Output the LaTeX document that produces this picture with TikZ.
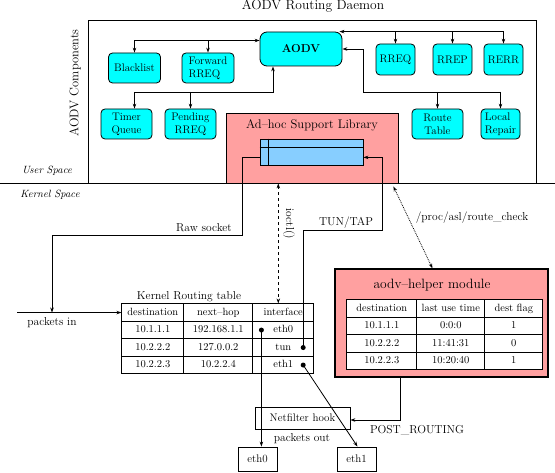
\documentclass[tikz,border=0pt]{standalone}
\usepackage{tikz}
\usetikzlibrary{positioning,arrows.meta,calc,matrix}

\definecolor{compcyan}{RGB}{0,255,255}
\definecolor{libpink}{RGB}{255,160,160}
\definecolor{bufblue}{RGB}{135,206,255}

\tikzset{
  comp/.style={draw,fill=compcyan,rounded corners=4pt,minimum height=30,inner sep=1pt,
    font=\fontsize{11}{13}\selectfont},
  plainbox/.style={draw,inner sep=1pt,font=\fontsize{11}{12}\selectfont},
  lbl/.style={font=\fontsize{11.5}{13}\selectfont},
  spacelbl/.style={font=\fontsize{10.5}{12}\selectfont\itshape},
  tbl/.style={matrix of nodes,anchor=north west,inner sep=0pt,
    column sep=-\pgflinewidth,row sep=-\pgflinewidth,
    nodes={draw,fill=white,minimum height=17.5,inner sep=1pt,
      text height=7.5pt,text depth=2.5pt,font=\fontsize{10.5}{12}\selectfont}},
}

\begin{document}
\begin{tikzpicture}[x=1pt,y=-1pt,line width=0.8pt,>={Stealth[length=5pt,width=3.5pt]}]
\useasboundingbox (0,0) rectangle (555,473);
% ---- user space: the routing daemon ----
\node[draw,minimum width=448,minimum height=163,anchor=north west,inner sep=0pt] (daemon) at (88,20) {};
\node[anchor=base,font=\fontsize{13.5}{15}\selectfont] (title) at (313,10) {AODV Routing Daemon};
\node[rotate=90,font=\fontsize{12.5}{14}\selectfont] (complbl) at (75,83) {AODV Components};
\node[spacelbl] (userlbl) at (47,171) {User Space};
\node[spacelbl] (kernlbl) at (50,195) {Kernel Space};

\node[comp,minimum width=82,minimum height=34,rounded corners=7pt,
  font=\fontsize{11.5}{12}\selectfont\bfseries] (aodv) at (301,49) {AODV};
\node[comp,minimum width=52] (black) at (134.5,68) {Blacklist};
\node[comp,minimum width=52,align=left] (fwd) at (208,68) {Forward\\RREQ};
\node[comp,minimum width=39,minimum height=31] (rreq) at (395.5,59.5) {RREQ};
\node[comp,minimum width=39,minimum height=31] (rrep) at (452.5,59.5) {RREP};
\node[comp,minimum width=39,minimum height=31] (rerr) at (503.5,59.5) {RERR};
\node[comp,minimum width=51,align=center] (timer) at (126.5,124) {Timer\\Queue};
\node[comp,minimum width=51,align=center] (pend) at (190.5,124) {Pending\\RREQ};
\node[comp,minimum width=51,align=center] (rtab) at (437.5,124) {Route\\Table};
\node[comp,minimum width=39,align=left] (lrep) at (500.5,124) {Local\\Repair};

% buses to the components
\coordinate (busTL) at (black.north |- 0,40.5);
\draw[->] (busTL) -- (aodv.west |- busTL);
\draw[->] (busTL) -- (black.north);
\draw[->] (fwd.north |- busTL) -- (fwd.north);
\coordinate (busBL) at (273,92);
\draw[->] (black.north |- busBL) -- (busBL) -- (busBL |- aodv.south);
\draw[->] (black.north |- busBL) -- (black.north |- timer.north);
\draw[->] (pend.north |- busBL) -- (pend.north);
\coordinate (busTR) at (rerr.north |- aodv.north);
\draw[->] (busTR) -- ($(aodv.north east)+(-3,0)$);
\foreach \n in {rreq,rrep,rerr}
  \draw[->] (\n.north |- busTR) -- (\n.north);
\coordinate (busR) at (363,92);
\draw[->] (lrep.north |- busR) -- (busR) -- (busR |- aodv.east) -- (aodv.east);
\foreach \n in {rtab,lrep}
  \draw[->] (\n.north |- busR) -- (\n.north);

% ---- support library ----
\node[draw,fill=libpink,minimum width=172,minimum height=70,inner sep=0pt] (lib) at (312,148) {};
\node[font=\fontsize{12.5}{14}\selectfont] (libtitle) at (312,125) {Ad--hoc Support Library};
\node[draw,fill=bufblue,minimum width=103,minimum height=26,inner sep=0pt] (buf) at (311.5,152) {};
\draw ($(buf.north west)+(9,0)$) -- ($(buf.south west)+(9,0)$);
\draw ($(buf.north west)+(0,9)$) -- ($(buf.north east)+(0,9)$);
\coordinate (sepL) at (0,183);
\coordinate (sepR) at (555,183);
\draw (sepL) -- (sepR);

% ---- kernel routing table ----
\node[lbl,anchor=base] (krtlbl) at (189,299.5) {Kernel Routing table};
\matrix (krt) [tbl,
  column 1/.style={nodes={minimum width=62}},
  column 2/.style={nodes={minimum width=69}},
  column 3/.style={nodes={minimum width=61}}] at (121,303) {
  destination & next--hop & interface\\
  10.1.1.1 & 192.168.1.1 & eth0\\
  10.2.2.2 & 127.0.0.2 & tun\\
  10.2.2.3 & 10.2.2.4 & eth1\\
};
\coordinate (d0) at ($(krt-2-3.west)+(9,0)$);
\coordinate (dtun) at ($(krt-3-3.east)+(-11,0)$);
\coordinate (d1) at ($(krt-4-3.east)+(-11,0)$);
\foreach \d in {d0,dtun,d1}
  \fill (\d) circle (2.5);

% raw socket and packets in
\coordinate (bufL) at ($(buf.south west)+(0,-8)$);
\coordinate (bufR) at ($(buf.south east)+(0,-8)$);
\coordinate (rawbend) at (242,235);
\coordinate (pin) at (krt-1-1.west -| 17,0);
\coordinate (pinjoin) at (krt-1-1.west -| 52,0);
\draw[->] (bufL) -| (rawbend) -| (pinjoin);
\node[lbl,anchor=base] (rawlbl) at (204,231.5) {Raw socket};
\draw[->] (pin) -- (krt-1-1.west);
\node[lbl,anchor=base] (pinlbl) at (52,326) {packets in};

% ioctl and tun/tap
\draw[<->,dashed] ($(lib.south -| krt-1-3.north)+(-5,0)$) -- ($(krt-1-3.north)+(-5,0)$);
\node[lbl,rotate=-90] (ioctllbl) at (289,224) {ioctl()};
\coordinate (tunbend) at (382,230);
\draw[->] (dtun) |- (tunbend) |- (bufR);
\node[lbl,anchor=base] (tunlbl) at (346,226) {TUN/TAP};

% ---- aodv-helper module ----
\node[draw,fill=libpink,line width=1.1pt,minimum width=213,minimum height=108,inner sep=0pt] (helper) at (441.5,323) {};
\node[anchor=base,font=\fontsize{13.5}{15}\selectfont] (helpertitle) at (432,289) {aodv--helper module};
\matrix (hlp) [tbl,
  column 1/.style={nodes={minimum width=70}},
  column 2/.style={nodes={minimum width=68}},
  column 3/.style={nodes={minimum width=58}}] at (346,299) {
  destination & last use time & dest flag\\
  10.1.1.1 & 0:0:0 & 1\\
  10.2.2.2 & 11:41:31 & 0\\
  10.2.2.3 & 10:20:40 & 1\\
};
\draw[<->,densely dotted] ($(lib.south east)+(-5,3)$) -- ($(helper.north)+(-9,0)$);
\node[lbl,anchor=base] (proclbl) at (472,221) {/proc/asl/route\_check};

% ---- netfilter and devices ----
\node[plainbox,minimum width=95,minimum height=22] (nf) at (302.5,418) {Netfilter hook};
\node[plainbox,minimum width=39,minimum height=24] (e0) at (257.5,459) {eth0};
\node[plainbox,minimum width=39,minimum height=24] (e1) at (356.5,459) {eth1};
\draw[->] ($(helper.south)+(-41.5,0)$) |- ($(nf.east)+(0,2)$);
\node[lbl,anchor=base] (postlbl) at (417,434) {POST\_ROUTING};
\node[lbl,anchor=base] (poutlbl) at (302,442) {packets out};
\draw[->] (d0) -- (d0 |- e0.north);
\draw[->] (d1) -- ($(e1.north)+(1,0)$);
\end{tikzpicture}
\end{document}
